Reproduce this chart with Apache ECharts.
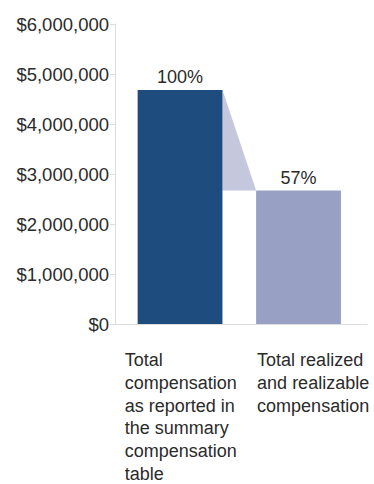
<!DOCTYPE html>
<html>
<head>
<meta charset="utf-8">
<script src="https://cdn.jsdelivr.net/npm/echarts@6/dist/echarts.min.js"></script>
<style>
  html, body { margin: 0; padding: 0; background: #ffffff; }
  #chart { width: 374px; height: 484px; }
</style>
</head>
<body>
<div id="chart"></div>
<script>
// Compensation comparison data
const categoryLines = [
  ['Total', 'compensation', 'as reported in', 'the summary', 'compensation', 'table'],
  ['Total realized', 'and realizable', 'compensation']
];
const compValues = [4680000, 2670000];
const yAxisMax = 6000000;
const yAxisStep = 1000000;

// Layout / style constants
const FONT = '"Liberation Sans", Arial, Helvetica, sans-serif';
const TEXT_COLOR = '#2b2b2b';
const AXIS_COLOR = '#dcdcdc';
const BAR_COLORS = ['#1f4c7f', '#98a1c4'];
const CONNECTOR_COLOR = '#c5c7dd';
const HALF_BAR = 0.358;          // half bar width in x-axis units
const LABEL_DX = [-13, 1];       // horizontal shift of category text blocks

const pctLabels = compValues.map(v => Math.round(v / compValues[0] * 100) + '%');
const fmtMoney = v => '$' + Number(v).toLocaleString('en-US');

const chart = echarts.init(document.getElementById('chart'), null, { renderer: 'svg' });

chart.setOption({
  backgroundColor: '#ffffff',
  animation: false,
  grid: { left: 115, right: 7, top: 24, bottom: 160 },
  xAxis: {
    type: 'value',
    min: -0.549,
    max: 1.578,
    axisLine: { show: true, lineStyle: { color: AXIS_COLOR, width: 1 } },
    axisTick: { show: false },
    axisLabel: { show: false },
    splitLine: { show: false }
  },
  yAxis: {
    type: 'value',
    min: 0,
    max: yAxisMax,
    interval: yAxisStep,
    axisLine: { show: true, onZero: false, lineStyle: { color: AXIS_COLOR, width: 1 } },
    axisTick: { show: true, length: 5, lineStyle: { color: AXIS_COLOR } },
    splitLine: { show: false },
    axisLabel: {
      margin: 6,
      formatter: fmtMoney,
      color: TEXT_COLOR,
      fontSize: 18.5,
      fontFamily: FONT
    }
  },
  series: [
    {
      // sloped connector between the two bar tops
      type: 'custom',
      clip: false,
      silent: true,
      data: [[0, compValues[0], 1, compValues[1]]],
      renderItem: function (params, api) {
        const a = api.coord([api.value(0) + HALF_BAR, api.value(1)]);
        const b = api.coord([api.value(2) - HALF_BAR, api.value(3)]);
        const c = api.coord([api.value(0) + HALF_BAR, api.value(3)]);
        return {
          type: 'polygon',
          shape: { points: [a, b, c] },
          style: { fill: CONNECTOR_COLOR }
        };
      }
    },
    {
      // bars with percentage labels
      type: 'custom',
      clip: false,
      data: compValues.map((v, i) => [i, v]),
      renderItem: function (params, api) {
        const i = api.value(0);
        const v = api.value(1);
        const tl = api.coord([i - HALF_BAR, v]);
        const br = api.coord([i + HALF_BAR, 0]);
        const top = api.coord([i, v]);
        return {
          type: 'group',
          children: [
            {
              type: 'rect',
              shape: { x: tl[0], y: tl[1], width: br[0] - tl[0], height: br[1] - tl[1] },
              style: { fill: BAR_COLORS[i] }
            },
            {
              type: 'text',
              style: {
                text: pctLabels[i],
                x: top[0],
                y: top[1] - 4,
                align: 'center',
                verticalAlign: 'bottom',
                fill: TEXT_COLOR,
                fontSize: 18,
                fontFamily: FONT
              }
            }
          ]
        };
      }
    },
    {
      // category names under the axis
      type: 'custom',
      clip: false,
      silent: true,
      data: categoryLines.map((lines, i) => [i]),
      renderItem: function (params, api) {
        const i = api.value(0);
        const p = api.coord([i - HALF_BAR, 0]);
        return {
          type: 'text',
          style: {
            text: categoryLines[i].join('\n'),
            x: p[0] + LABEL_DX[i],
            y: p[1] + 24.5,
            align: 'left',
            verticalAlign: 'top',
            lineHeight: 22.8,
            fill: TEXT_COLOR,
            fontSize: 18,
            fontFamily: FONT
          }
        };
      }
    }
  ]
});
</script>
</body>
</html>
